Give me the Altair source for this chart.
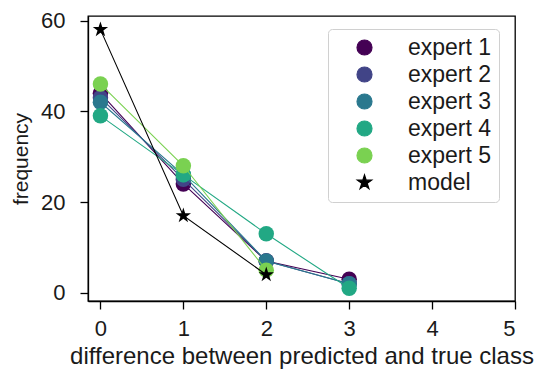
import altair as alt
import pandas as pd

# ---- data ----
series_names = ["expert 1", "expert 2", "expert 3", "expert 4", "expert 5", "model"]
series_colors = ["#440154", "#414487", "#2a788e", "#22a884", "#7ad151", "#000000"]

diff_expert = [0, 1, 2, 3]
expert1 = [44, 24, 7, 3]
expert2 = [43, 25, 7, 2]
expert3 = [42, 26, 7, 2]
expert4 = [39, 26, 13, 1]
diff_short = [0, 1, 2]
expert5 = [46, 28, 5]
model = [58, 17, 4]

x_ticks = [0, 1, 2, 3, 4, 5]
y_ticks = [0, 20, 40, 60]

rows = []
for name, xs, ys in [
    ("expert 1", diff_expert, expert1),
    ("expert 2", diff_expert, expert2),
    ("expert 3", diff_expert, expert3),
    ("expert 4", diff_expert, expert4),
    ("expert 5", diff_short, expert5),
    ("model", diff_short, model),
]:
    for xv, yv in zip(xs, ys):
        rows.append({"series": name, "diff": xv, "frequency": yv})
df = pd.DataFrame(rows)

FONT = "Liberation Sans"

STAR = ("M0,-1L0.2245,-0.309L0.9511,-0.309L0.3633,0.118L0.5878,0.809L0,0.382"
        "L-0.5878,0.809L-0.3633,0.118L-0.9511,-0.309L-0.2245,-0.309Z")
CIRCLE = "M1,0A1,1,0,1,1,-1,0A1,1,0,1,1,1,0Z"
LEG_LINE = "M-3.25,0L3.25,0"
LEG_STAR = ("M0,-1.1L0.247,-0.34L1.046,-0.34L0.4,0.13L0.647,0.89L0,0.42"
            "L-0.647,0.89L-0.4,0.13L-1.046,-0.34L-0.247,-0.34Z")

legend = alt.Legend(
    title=None, orient="none", legendX=240, legendY=13,
    symbolSize=225, symbolStrokeWidth=1.2,
    symbolType={"expr": "datum.value === 'model' ? '" + LEG_LINE + LEG_STAR + "' : '" + LEG_LINE + CIRCLE + "'"},
    symbolStrokeColor={"expr": "scale('color', datum.value)"},
    symbolFillColor={"expr": "scale('color', datum.value)"},
    symbolOpacity=1,
    labelFontSize=23, labelFont=FONT, labelColor="#1a1a1a",
    symbolOffset=18, labelOffset=32,
    rowPadding=3, padding=7,
    strokeColor="#d0d0d0", cornerRadius=4, fillColor="white",
)

x_enc = alt.X("diff:Q",
              scale=alt.Scale(domain=[-0.15, 5.0], nice=False, zero=False),
              axis=alt.Axis(values=x_ticks, title="difference between predicted and true class",
                            format="d"))
y_enc = alt.Y("frequency:Q",
              scale=alt.Scale(domain=[-1.8, 61], nice=False, zero=False),
              axis=alt.Axis(values=y_ticks, title="frequency", format="d"))

color_scale = alt.Scale(domain=series_names, range=series_colors)
shape_scale = alt.Scale(domain=series_names, range=["circle"] * 5 + [STAR])

layers = []
for name in series_names:
    base = alt.Chart(df).transform_filter(alt.datum.series == name)
    line = base.mark_line(strokeWidth=1.1, clip=False).encode(
        x=x_enc, y=y_enc,
        color=alt.Color("series:N", scale=color_scale, legend=legend),
    )
    pts = base.mark_point(filled=True, opacity=1,
                          size=260 if name == "model" else 240).encode(
        x=x_enc, y=y_enc,
        color=alt.Color("series:N", scale=color_scale, legend=legend),
        shape=alt.Shape("series:N", scale=shape_scale, legend=None),
    )
    layers += [line, pts]

chart = alt.layer(*layers).properties(
    width=427, height=285,
    padding={"left": 88, "top": 16, "right": 19, "bottom": 73},
    autosize=alt.AutoSizeParams(type="none"),
).configure_view(
    stroke="black", strokeWidth=1.3
).configure_axis(
    grid=False, domainColor="black", domainWidth=1.3,
    tickColor="black", tickWidth=1.3, tickSize=8,
    labelFont=FONT, labelFontSize=22, labelColor="#1a1a1a",
    titleFont=FONT, titleFontWeight="normal", titleColor="#1a1a1a",
).configure_axisX(
    titleFontSize=24, titlePadding=5, labelPadding=9,
).configure_axisY(
    titleFontSize=21, titlePadding=9, labelPadding=15,
)

chart.save("out.html", embed_options={"renderer": "svg", "actions": False})
